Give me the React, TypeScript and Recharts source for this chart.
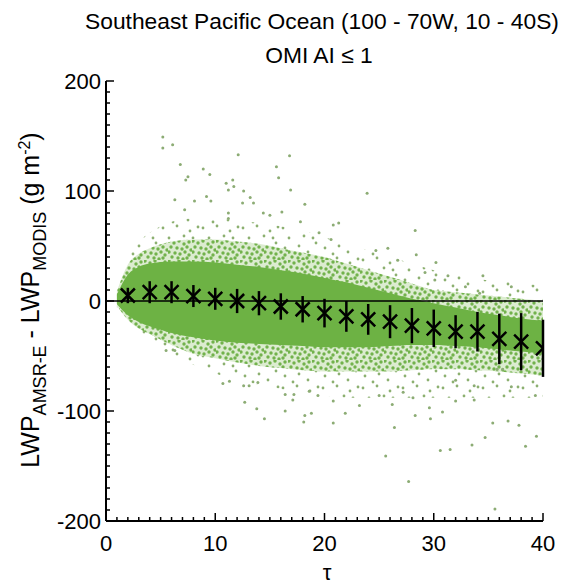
import React from 'react';
import { ComposedChart, Area, Scatter, XAxis, YAxis, ReferenceLine, ErrorBar } from 'recharts';

// ---- Data ----
// Envelope of the dense point cloud (tau, g m-2)
const bandX = [1, 2, 3, 4, 6, 8, 10, 12, 14, 16, 18, 20, 22, 24, 26, 28, 30, 32, 34, 36, 38, 40];
const coreHi = [6, 24, 31, 34, 36, 36, 35, 33, 31, 28, 25, 21, 17, 12, 7, 2, -2, -6, -10, -13, -16, -18];
const coreLo = [-3, -13, -19, -23, -29, -33, -36, -38, -39, -40, -41, -42, -42, -42, -41, -40, -40, -41, -42, -44, -46, -48];
const midHi = [9, 33, 43, 48, 54, 56, 56, 54, 52, 48, 44, 40, 34, 28, 22, 16, 10, 8, 6, 4, 2, 0];
const midLo = [-4, -17, -25, -30, -40, -48, -52, -56, -59, -61, -63, -64, -64, -64, -64, -63, -62, -62, -63, -64, -66, -68];
const fringeHi = [12, 42, 54, 62, 72, 75, 75, 73, 71, 68, 64, 58, 52, 46, 40, 34, 28, 24, 20, 18, 16, 14];
const fringeLo = [-6, -21, -31, -39, -49, -58, -66, -72, -76, -80, -84, -86, -88, -88, -88, -88, -88, -88, -88, -88, -88, -88];

// Isolated points
const outlierX = [5.2, 5.2, 6.1, 6.8, 12.1, 16.8, 8.9, 9.5, 7.5, 7.3, 15.6, 15.8, 16.9, 11.0, 11.6, 11.7, 6.3, 8.1, 9.2, 9.6, 11.2, 12.6, 13.2, 12.5, 13.5, 16.1, 7.2, 14.4, 15.0, 11.2, 11.2,
  23.9, 20.8, 21.3, 20.6, 28.3, 28.4, 30.2, 25.8, 24.7, 31.3, 34.5, 32.9, 37.1, 34.2, 29.2, 30.1, 26.7, 18.2, 19.5, 17.8,
  12.7, 13.8, 14.5, 16.4, 18.2, 18.1, 18.8, 16.4, 17.1, 17.2, 10.7, 11.3, 12.6, 13.1, 13.9, 5.5, 6.3, 19.4, 18.6,
  20.8, 21.9, 23.2, 25.6, 27.7, 26.4, 28.3, 29.6, 29.7, 30.8, 30.6, 31.5, 33.5, 34.7, 35.4, 36.8, 37.8, 38.4, 39.4, 35.6, 33.7, 32.0, 33.7, 37.1, 39.3, 26.2, 27.2, 28.1, 25.0, 20.8, 32.0, 36.3, 35.8];
const outlierY = [149, 139, 142, 124, 133, 132, 120, 115, 113, 110, 122, 112, 101, 107, 110, 104, 92, 91, 95, 91, 101, 100, 94, 89, 89, 81, 83, 80, 78, 80, 75,
  98, 69, 71, 56, 64, 42, 35, 48, 46, 23, 23, 13, 13, 7, 26, 19, 37, 88, 62, 72,
  -92, -98, -107, -100, -104, -110, -102, -85, -90, -85, -75, -73, -77, -77, -74, -45, -45, -86, -82,
  -111, -102, -95, -141, -164, -115, -104, -97, -107, -101, -136, -135, -131, -124, -111, -109, -113, -132, -123, -189, -90, -91, -77, -78, -86, -94, -83, -88, -86, -91, -72, -62, -62];

// Binned means and standard deviations
const binX = [2, 4, 6, 8, 10, 12, 14, 16, 18, 20, 22, 24, 26, 28, 30, 32, 34, 36, 38, 40];
const binMean = [5, 8, 8, 4.5, 2, 0, -2, -5, -7.5, -11, -14, -16.7, -18.8, -22.4, -24.8, -27.9, -27.9, -34.5, -37, -43];
const binStd = [7, 10, 10, 10, 10, 11, 11, 12, 12, 13, 14, 14, 15, 16, 17, 15, 18, 23, 26, 26];

const xTicks = Array.from({ length: 41 }, (_, i) => i);
const yTicks = Array.from({ length: 41 }, (_, i) => -200 + i * 10);

const bandData = bandX.map((x, i) => ({
  x,
  fringe: [fringeLo[i], fringeHi[i]],
  mid: [midLo[i], midHi[i]],
  core: [coreLo[i], coreHi[i]],
}));
const outlierData = outlierX.map((x, i) => ({ x, y: outlierY[i] }));
const binData = binX.map((x, i) => ({ x, y: binMean[i], err: binStd[i] }));

const FONT = '"Liberation Sans", Arial, Helvetica, sans-serif';

const sparseDots = [[3, 4], [17, 2], [30, 7], [9, 14], [24, 12], [36, 19], [5, 24], [19, 22], [28, 28], [13, 30], [38, 3], [33, 14]];
const denseDots = [[1, 1], [6, 3], [11, 1], [16, 4], [21, 2], [3, 7], [9, 8], [14, 9], [19, 7], [23, 10], [1, 12], [7, 13], [12, 14], [17, 12], [21, 15], [4, 17], [10, 18], [15, 19], [19, 18]];

const BottomTick = (props: any) => {
  const { x, y, payload } = props;
  const v = payload.value;
  const major = v % 10 === 0;
  return (
    <g>
      <line x1={x} x2={x} y1={y} y2={y - (major ? 8 : 4)} stroke="#000" strokeWidth={1.5} />
      {major && (
        <text x={x} y={y + 30} textAnchor="middle" fontSize={22} fontFamily={FONT} fill="#000">{v}</text>
      )}
    </g>
  );
};
const TopTick = (props: any) => {
  const { x, y, payload } = props;
  const major = payload.value % 10 === 0;
  return <line x1={x} x2={x} y1={y} y2={y + (major ? 8 : 4)} stroke="#000" strokeWidth={1.5} />;
};
const LeftTick = (props: any) => {
  const { x, y, payload } = props;
  const v = payload.value;
  const major = v % 100 === 0;
  return (
    <g>
      <line x1={x} x2={x + (major ? 8 : 4)} y1={y} y2={y} stroke="#000" strokeWidth={1.5} />
      {major && (
        <text x={x - 5} y={y + 8} textAnchor="end" fontSize={22} fontFamily={FONT} fill="#000">{v}</text>
      )}
    </g>
  );
};
const RightTick = (props: any) => {
  const { x, y, payload } = props;
  const major = payload.value % 100 === 0;
  return <line x1={x} x2={x - (major ? 8 : 4)} y1={y} y2={y} stroke="#000" strokeWidth={1.5} />;
};

const StarShape = (props: any) => {
  const { cx, cy } = props;
  const s = 7;
  return (
    <path d={`M${cx - s},${cy - s}L${cx + s},${cy + s}M${cx - s},${cy + s}L${cx + s},${cy - s}`} stroke="#000" strokeWidth={2.5} fill="none" />
  );
};
const DotShape = (props: any) => {
  const { cx, cy } = props;
  return <circle cx={cx} cy={cy} r={1.5} fill="#8cac74" />;
};

const YLabel = () => (
  <text transform="translate(39,300) rotate(-90)" textAnchor="middle" fontSize={25} fontFamily={FONT} fill="#000">
    LWP<tspan fontSize={18} dy={7}>AMSR-E</tspan>
    <tspan dy={-7}> - LWP</tspan>
    <tspan fontSize={18} dy={7}>MODIS</tspan>
    <tspan dy={-7}> (g m</tspan>
    <tspan fontSize={16} dy={-9}>-2</tspan>
    <tspan dy={9}>)</tspan>
  </text>
);

export default function App() {
  return (
    <div style={{ position: 'absolute', left: 0, top: 0, width: 569, height: 585, background: '#fff', fontFamily: FONT }}>
      <div style={{ position: 'absolute', left: 0, width: 644, top: 8, textAlign: 'center', fontSize: 22.8, lineHeight: '26px', color: '#000', whiteSpace: 'nowrap' }}>
        Southeast Pacific Ocean (100 - 70W, 10 - 40S)
      </div>
      <div style={{ position: 'absolute', left: 0, width: 638, top: 42, textAlign: 'center', fontSize: 22.8, lineHeight: '26px', color: '#000' }}>
        OMI AI ≤ 1
      </div>
      <div style={{ position: 'absolute', left: 0, width: 654, top: 561, textAlign: 'center', fontSize: 22, lineHeight: '24px', color: '#000' }}>
        τ
      </div>
      <ComposedChart width={569} height={585} data={bandData} margin={{ top: 81, right: 26, bottom: 0, left: 46 }} style={{ position: 'absolute', left: 0, top: 0 }}>
        <defs>
          <pattern id="sparseDots" width={40} height={32} patternUnits="userSpaceOnUse">
            {sparseDots.map(([a, b], i) => <circle key={i} cx={a} cy={b} r={1.4} fill="#8cb070" />)}
          </pattern>
          <pattern id="denseDots" width={24} height={20} patternUnits="userSpaceOnUse">
            <rect width={24} height={20} fill="#dcecd0" />
            {denseDots.map(([a, b], i) => <circle key={i} cx={a} cy={b} r={1.7} fill="#72b24c" />)}
          </pattern>
        </defs>
        <XAxis xAxisId={0} dataKey="x" type="number" domain={[0, 40]} ticks={xTicks} interval={0} allowDataOverflow
          tick={<BottomTick />} tickLine={false} tickSize={0} tickMargin={0} height={64}
          axisLine={{ stroke: '#000', strokeWidth: 2 }} />
        <XAxis xAxisId="top" orientation="top" dataKey="x" type="number" domain={[0, 40]} ticks={xTicks} interval={0}
          tick={<TopTick />} tickLine={false} tickSize={0} tickMargin={0} height={0}
          axisLine={{ stroke: '#000', strokeWidth: 2 }} />
        <YAxis yAxisId={0} dataKey="y" type="number" domain={[-200, 200]} ticks={yTicks} interval={0} allowDataOverflow
          tick={<LeftTick />} tickLine={false} tickSize={0} tickMargin={0} width={60}
          axisLine={{ stroke: '#000', strokeWidth: 2 }} />
        <YAxis yAxisId="right" orientation="right" dataKey="y" type="number" domain={[-200, 200]} ticks={yTicks} interval={0}
          tick={<RightTick />} tickLine={false} tickSize={0} tickMargin={0} width={0}
          axisLine={{ stroke: '#000', strokeWidth: 2 }} />
        <Area dataKey="fringe" type="monotone" stroke="none" fill="url(#sparseDots)" fillOpacity={1} isAnimationActive={false} />
        <Area dataKey="mid" type="monotone" stroke="none" fill="url(#denseDots)" fillOpacity={1} isAnimationActive={false} />
        <Area dataKey="core" type="monotone" stroke="none" fill="#6db244" fillOpacity={1} isAnimationActive={false} />
        <Scatter data={outlierData} dataKey="y" shape={<DotShape />} isAnimationActive={false} />
        <ReferenceLine y={0} stroke="#000" strokeWidth={1.5} />
        <Scatter data={binData} dataKey="y" shape={<StarShape />} isAnimationActive={false}>
          <ErrorBar dataKey="err" direction="y" width={0} stroke="#000" strokeWidth={2.5} />
        </Scatter>
      </ComposedChart>
      <svg width={569} height={585} style={{ position: 'absolute', left: 0, top: 0, pointerEvents: 'none' }}>
        <YLabel />
      </svg>
    </div>
  );
}
